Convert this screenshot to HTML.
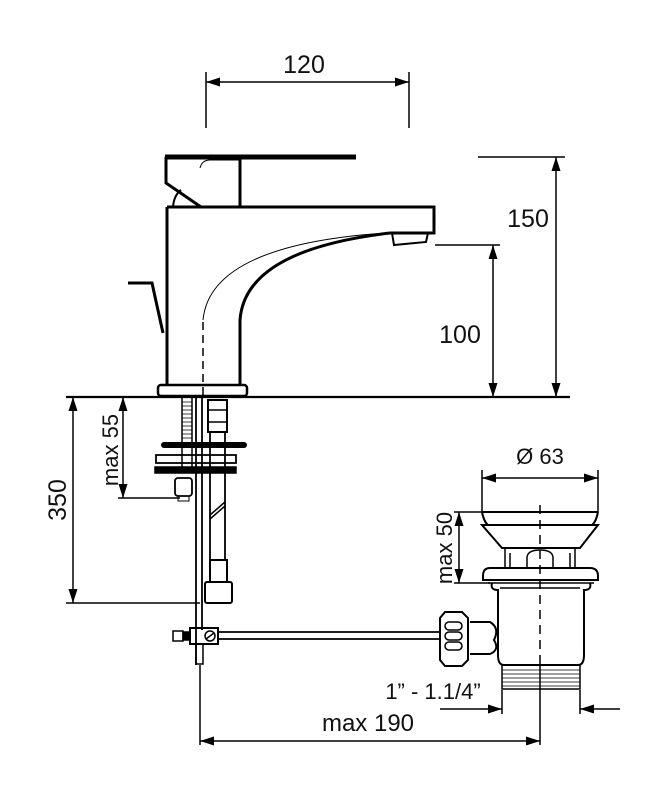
<!DOCTYPE html>
<html><head><style>
html,body{margin:0;padding:0;background:#fff;}
svg{display:block;}
text{font-family:"Liberation Sans",Arial,sans-serif;fill:#111;}
</style></head><body>
<svg width="671" height="796" viewBox="0 0 671 796" xmlns="http://www.w3.org/2000/svg">
<defs>
<marker id="a" viewBox="0 0 14 9" refX="14" refY="4.5" markerWidth="14" markerHeight="9" orient="auto-start-reverse" markerUnits="userSpaceOnUse"><path d="M0,0 L14,4.5 L0,9 z" fill="#000"/></marker>
</defs>
<g stroke="#000" fill="none" stroke-width="1.5">
<line x1="206" y1="72" x2="206" y2="128"/><line x1="409" y1="72" x2="409" y2="128"/>
<line x1="206" y1="82" x2="409" y2="82" marker-start="url(#a)" marker-end="url(#a)"/>
<line x1="165" y1="157" x2="356" y2="157" stroke-width="5"/>
<path d="M166,157 V183 L201,207" stroke-width="3"/>
<path d="M240,159 V207" stroke-width="3"/>
<path d="M200,168 Q202,160 210,160 H240" stroke-width="1"/>
<path d="M173,207 Q174,195 181,190" stroke-width="2"/>
<path d="M167,207 H434 V233 H390" stroke-width="3"/>
<path d="M167,207 V385" stroke-width="3"/>
<path d="M392,233 L394,245 L426,242 L428,233" stroke-width="2"/>
<path d="M240,385 V320 Q245,250 390,233" stroke-width="3"/>
<path d="M203,320 Q210,245 385,233" stroke-width="1"/>
<line x1="203" y1="322" x2="203" y2="395" stroke-dasharray="8,5"/>
<path d="M128,283 H152 L163,333" stroke-width="3"/>
<rect x="158" y="385" width="89" height="11" rx="3" stroke-width="2.5"/>
<line x1="66" y1="397" x2="570" y2="397" stroke-width="2.2"/>
<line x1="478" y1="157" x2="565" y2="157"/>
<line x1="556" y1="157" x2="556" y2="397" marker-start="url(#a)" marker-end="url(#a)"/>
<line x1="435" y1="245" x2="500" y2="245"/>
<line x1="493" y1="245" x2="493" y2="397" marker-start="url(#a)" marker-end="url(#a)"/>
<line x1="73" y1="397" x2="73" y2="603" marker-start="url(#a)" marker-end="url(#a)"/>
<line x1="66" y1="603" x2="200" y2="603"/>
<line x1="123" y1="397" x2="123" y2="498" marker-start="url(#a)" marker-end="url(#a)"/>
<line x1="118" y1="498" x2="180" y2="498"/>
<rect x="182" y="397" width="10" height="73" stroke-width="1.5"/>
<path d="M182,402 H192 M182,406 H192 M182,410 H192 M182,414 H192 M182,418 H192 M182,422 H192 M182,426 H192 M182,430 H192 M182,434 H192 M182,438 H192" stroke-width="0.8"/>
<line x1="164" y1="445" x2="244" y2="445" stroke-width="6" stroke-linecap="round"/>
<rect x="156" y="455" width="80" height="8" stroke-width="1.8"/>
<rect x="155" y="467" width="81" height="6" fill="#000"/>
<rect x="175" y="478" width="17" height="18" rx="3" stroke-width="1.8"/>
<rect x="178" y="496" width="11" height="5" stroke-width="1"/>
<line x1="196" y1="397" x2="196" y2="665" stroke-width="1.8"/>
<line x1="202" y1="397" x2="202" y2="630" stroke-width="1.8"/>
<rect x="208" y="400" width="19" height="32" stroke-width="2"/>
<line x1="208" y1="410" x2="227" y2="410"/><line x1="208" y1="422" x2="227" y2="422"/>
<line x1="210" y1="432" x2="210" y2="560" stroke-width="1.8"/><line x1="225" y1="432" x2="225" y2="560" stroke-width="1.8"/>
<line x1="210" y1="515" x2="225" y2="502" stroke-width="1.5"/><line x1="210" y1="519" x2="225" y2="506" stroke-width="1.5"/>
<rect x="210" y="560" width="17" height="22" stroke-width="2"/>
<rect x="205" y="582" width="27" height="21" rx="2" stroke-width="2"/>
<line x1="218" y1="632" x2="440" y2="632" stroke-width="1.8"/>
<line x1="218" y1="639" x2="440" y2="639" stroke-width="1.8"/>
<rect x="190" y="628" width="28" height="16" stroke-width="2"/>
<circle cx="210" cy="636" r="5"/><line x1="206" y1="639" x2="214" y2="633"/>
<rect x="173" y="631" width="10" height="10" stroke-width="1.5"/>
<rect x="183" y="632" width="7" height="8" fill="#000"/>
<rect x="196" y="644" width="7" height="20" stroke-width="1.5"/>
<line x1="482" y1="470" x2="482" y2="512"/><line x1="598" y1="470" x2="598" y2="512"/>
<line x1="482" y1="478" x2="598" y2="478" marker-start="url(#a)" marker-end="url(#a)"/>
<path d="M482,512 H598 M482,512 Q484,522 488,525 M598,512 Q596,522 592,525" stroke-width="2"/>
<path d="M482,525 H598 L580,548 H502 Z" stroke-width="2"/>
<path d="M505,548 V568 M575,548 V568 M510,553 V568 M570,553 V568" stroke-width="1.5"/>
<path d="M527,568 V558 Q527,550 540,550 Q553,550 553,558 V568" stroke-width="1.5"/>
<path d="M490,568 H590 Q598,568 598,576 V580 H483 V576 Q483,568 490,568 Z" stroke-width="2"/>
<path d="M488,583 H594 M500,588 H580" stroke-width="1.5"/>
<path d="M492,583 Q490,590 498,590 V655 Q498,665 504,665 H578 Q584,665 584,655 V590 Q592,590 590,583" stroke-width="2"/>
<rect x="502" y="665" width="78" height="24" stroke-width="1.5"/>
<path d="M502,670 H580 M502,674 H580 M502,678 H580 M502,682 H580 M502,686 H580" stroke-width="0.8"/>
<line x1="540" y1="505" x2="540" y2="665" stroke-dasharray="9,6"/>
<line x1="540" y1="665" x2="540" y2="745"/>
<line x1="454" y1="512" x2="485" y2="512"/><line x1="454" y1="583" x2="490" y2="583"/>
<line x1="459" y1="512" x2="459" y2="583" marker-start="url(#a)" marker-end="url(#a)"/>
<path d="M470,622 H490 Q500,628 494,640 Q500,650 490,654 H470" stroke-width="2"/>
<path d="M445,612 H462 L468,618 V660 L462,666 H445 L440,660 V618 Z" stroke-width="2"/>
<rect x="445" y="622" width="17" height="8" rx="4"/><rect x="445" y="632" width="17" height="8" rx="4"/><rect x="445" y="642" width="17" height="8" rx="4"/>
<line x1="502" y1="690" x2="502" y2="714"/><line x1="580" y1="690" x2="580" y2="714"/>
<line x1="440" y1="709" x2="502" y2="709" marker-end="url(#a)"/>
<line x1="620" y1="709" x2="580" y2="709" marker-end="url(#a)"/>
<line x1="200" y1="665" x2="200" y2="745"/>
<line x1="200" y1="741" x2="540" y2="741" marker-start="url(#a)" marker-end="url(#a)"/>
</g>
<text x="304" y="73" font-size="25" text-anchor="middle">120</text>
<text x="528" y="227" font-size="25" text-anchor="middle">150</text>
<text x="460" y="343" font-size="25" text-anchor="middle">100</text>
<text x="540" y="464" font-size="22" text-anchor="middle">Ø 63</text>
<text transform="translate(66,500) rotate(-90)" font-size="25" text-anchor="middle">350</text>
<text transform="translate(118,450) rotate(-90)" font-size="22" text-anchor="middle">max 55</text>
<text transform="translate(452,548) rotate(-90)" font-size="22" text-anchor="middle">max 50</text>
<text x="433" y="699" font-size="22" text-anchor="middle">1” - 1.1/4”</text>
<text x="368" y="731" font-size="24" text-anchor="middle">max 190</text>
</svg>
</body></html>
